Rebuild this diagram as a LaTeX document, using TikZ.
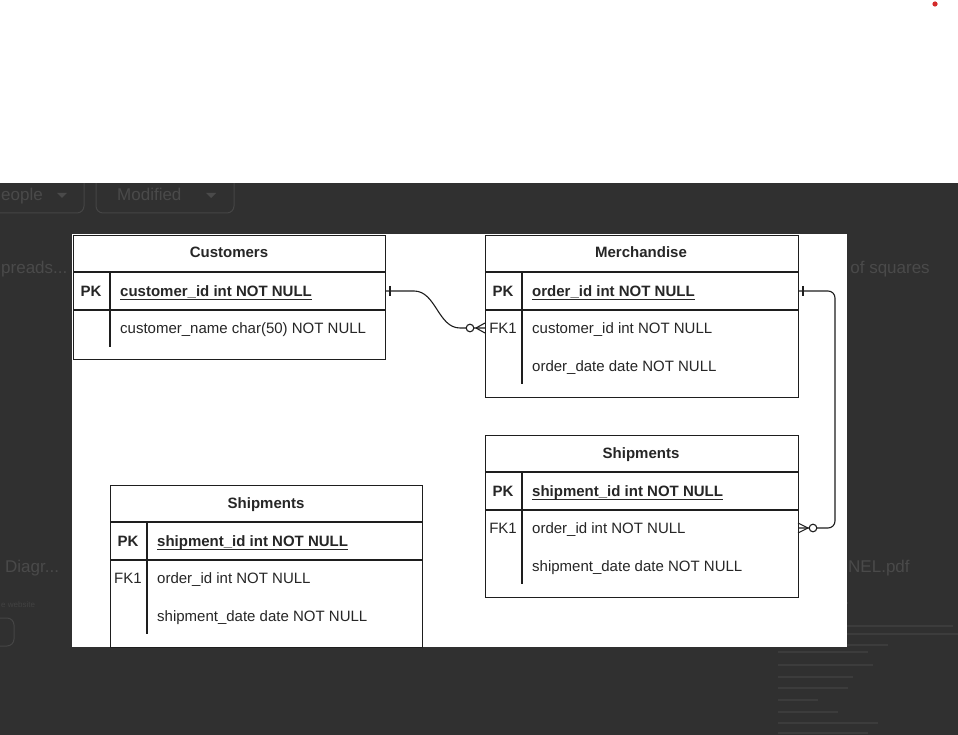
\documentclass[tikz,border=0pt]{standalone}
\usepackage{fontspec}
\setmainfont{Liberation Sans}
\usetikzlibrary{calc}
\newcommand\erfs{\fontsize{15}{18}\selectfont}
\newcommand\bgfs{\fontsize{17}{20}\selectfont}
\definecolor{bgdark}{HTML}{303030}
\definecolor{faint}{HTML}{4A4A4A}
\definecolor{linec}{HTML}{1E1E1E}
\definecolor{txtc}{HTML}{262626}
\definecolor{dotred}{HTML}{D42A2A}
\begin{document}
\begin{tikzpicture}[x=1pt,y=-1pt,
  tbl/.style={draw=linec, line width=1.2pt, fill=white, anchor=north west, inner sep=0pt},
  sep/.style={draw=linec, line width=1.2pt},
  title/.style={anchor=base, inner sep=0pt, text=txtc, font=\erfs\bfseries},
  key/.style={anchor=base, inner sep=0pt, text=txtc, font=\erfs\bfseries},
  fkey/.style={anchor=base, inner sep=0pt, text=txtc, font=\erfs},
  pkf/.style={anchor=base west, inner sep=0pt, text=txtc, font=\erfs\bfseries},
  fld/.style={anchor=base west, inner sep=0pt, text=txtc, font=\erfs},
  uline/.style={draw=txtc, line width=0.9pt},
  rowbox/.style={anchor=west, inner sep=0pt, minimum height=37pt},
  conn/.style={draw=linec, line width=1.1pt},
  bgtxt/.style={anchor=base west, inner sep=0pt, text=faint, font=\bgfs},
  bgbox/.style={draw=faint!80!bgdark, line width=1pt, rounded corners=7pt}
]
\useasboundingbox (0,0) rectangle (958,735);
% screenshot background
\fill[bgdark] (0,170) rectangle (958,735);
\draw[bgbox] (-10,165) rectangle (84,213);
\draw[bgbox] (96,165) rectangle (234,213);
\node[bgtxt] (bgPeople) at (1,201) {eople};
\fill[faint] (57,193) -- (67,193) -- (62,198) -- cycle;
\node[bgtxt] (bgModified) at (117,201) {Modified};
\fill[faint] (206,193) -- (216,193) -- (211,198) -- cycle;
\node[bgtxt] (bgSpreads) at (1,273) {preads...};
\node[bgtxt] (bgSquares) at (836,273) {n of squares};
\node[bgtxt] (bgDiagr) at (5,572) {Diagr...};
\node[bgtxt] (bgPdf) at (848,572) {NEL.pdf};
\node[anchor=base west, inner sep=0pt, text=faint!70!bgdark, font=\fontsize{8}{9}\selectfont] (bgWeb) at (1,607) {e website};
\draw[bgbox] (-10,618) rectangle (14,646);
\foreach \yy/\ll in {603/70,626/175,634/180,645/110,652/90,665/95,677/75,688/70,700/40,712/60,723/100,733/90}
  \draw[faint!45!bgdark, line width=1.6pt] (778,\yy) -- ++(\ll,0);
\fill[white] (0,0) rectangle (958,183);
\fill[dotred] (935,4) circle (2.6pt);
% white panel
\node[fill=white, anchor=north west, inner sep=0pt, minimum width=775pt, minimum height=413pt] (panel) at (72,234) {};

% ---- Customers
\node[tbl, minimum width=312pt, minimum height=124pt] (cust) at (73,235) {};
\draw[sep] (73,272) -- (385,272);
\draw[sep] (73,310) -- (385,310);
\draw[sep] (110,272) -- (110,347);
\node[title] (custT) at (229,258) {Customers};
\node[key] (custK1) at (91,296) {PK};
\node[pkf] (custF1) at (120,296) {customer\_id int NOT NULL};
\node[fld] (custF2) at (120,333) {customer\_name char(50) NOT NULL};
\node[rowbox, minimum width=312pt] (custR1) at (73,291) {};

% ---- Merchandise
\node[tbl, minimum width=313pt, minimum height=162pt] (mer) at (485,235) {};
\draw[sep] (485,272) -- (798,272);
\draw[sep] (485,310) -- (798,310);
\draw[sep] (522,272) -- (522,384);
\node[title] (merT) at (641,258) {Merchandise};
\node[key] (merK1) at (503,296) {PK};
\node[pkf] (merF1) at (532,296) {order\_id int NOT NULL};
\node[fkey] (merK2) at (503,333) {FK1};
\node[fld] (merF2) at (532,333) {customer\_id int NOT NULL};
\node[fld] (merF3) at (532,371) {order\_date date NOT NULL};
\node[rowbox, minimum width=313pt] (merR1) at (485,291) {};
\node[rowbox, minimum width=313pt] (merR2) at (485,328) {};

% ---- Shipments (right)
\node[tbl, minimum width=313pt, minimum height=162pt] (shr) at (485,435) {};
\draw[sep] (485,472) -- (798,472);
\draw[sep] (485,510) -- (798,510);
\draw[sep] (522,472) -- (522,584);
\node[title] (shrT) at (641,458) {Shipments};
\node[key] (shrK1) at (503,496) {PK};
\node[pkf] (shrF1) at (532,496) {shipment\_id int NOT NULL};
\node[fkey] (shrK2) at (503,533) {FK1};
\node[fld] (shrF2) at (532,533) {order\_id int NOT NULL};
\node[fld] (shrF3) at (532,571) {shipment\_date date NOT NULL};
\node[rowbox, minimum width=313pt] (shrR2) at (485,528) {};

% ---- Shipments (left)
\node[tbl, minimum width=312pt, minimum height=162pt] (shl) at (110,485) {};
\draw[sep] (110,522) -- (422,522);
\draw[sep] (110,560) -- (422,560);
\draw[sep] (147,522) -- (147,634);
\node[title] (shlT) at (266,508) {Shipments};
\node[key] (shlK1) at (128,546) {PK};
\node[pkf] (shlF1) at (157,546) {shipment\_id int NOT NULL};
\node[fkey] (shlK2) at (128,583) {FK1};
\node[fld] (shlF2) at (157,583) {order\_id int NOT NULL};
\node[fld] (shlF3) at (157,621) {shipment\_date date NOT NULL};

% underlines for PKs
\draw[uline] ($(custF1.base west)+(0,3)$) -- ($(custF1.base east)+(0,3)$);
\draw[uline] ($(merF1.base west)+(0,3)$) -- ($(merF1.base east)+(0,3)$);
\draw[uline] ($(shrF1.base west)+(0,3)$) -- ($(shrF1.base east)+(0,3)$);
\draw[uline] ($(shlF1.base west)+(0,3)$) -- ($(shlF1.base east)+(0,3)$);

% ---- connector Customers -> Merchandise
\draw[conn] (custR1.east) -- (414,291) .. controls (436,291) and (438,328) .. (460,328) -- (merR2.west);
\draw[conn] (390,286) -- (390,296);
\draw[conn, fill=white] (470,328) circle (3.8pt);
\draw[conn] (476,328) -- (485,323) (476,328) -- (485,333);

% ---- connector Merchandise -> Shipments
\draw[conn, rounded corners=7pt] (merR1.east) -- (835,291) -- (835,528) -- (shrR2.east);
\draw[conn] (803,286) -- (803,296);
\draw[conn, fill=white] (813,528) circle (3.8pt);
\draw[conn] (808,528) -- (798,523) (808,528) -- (798,533);
\end{tikzpicture}
\end{document}
